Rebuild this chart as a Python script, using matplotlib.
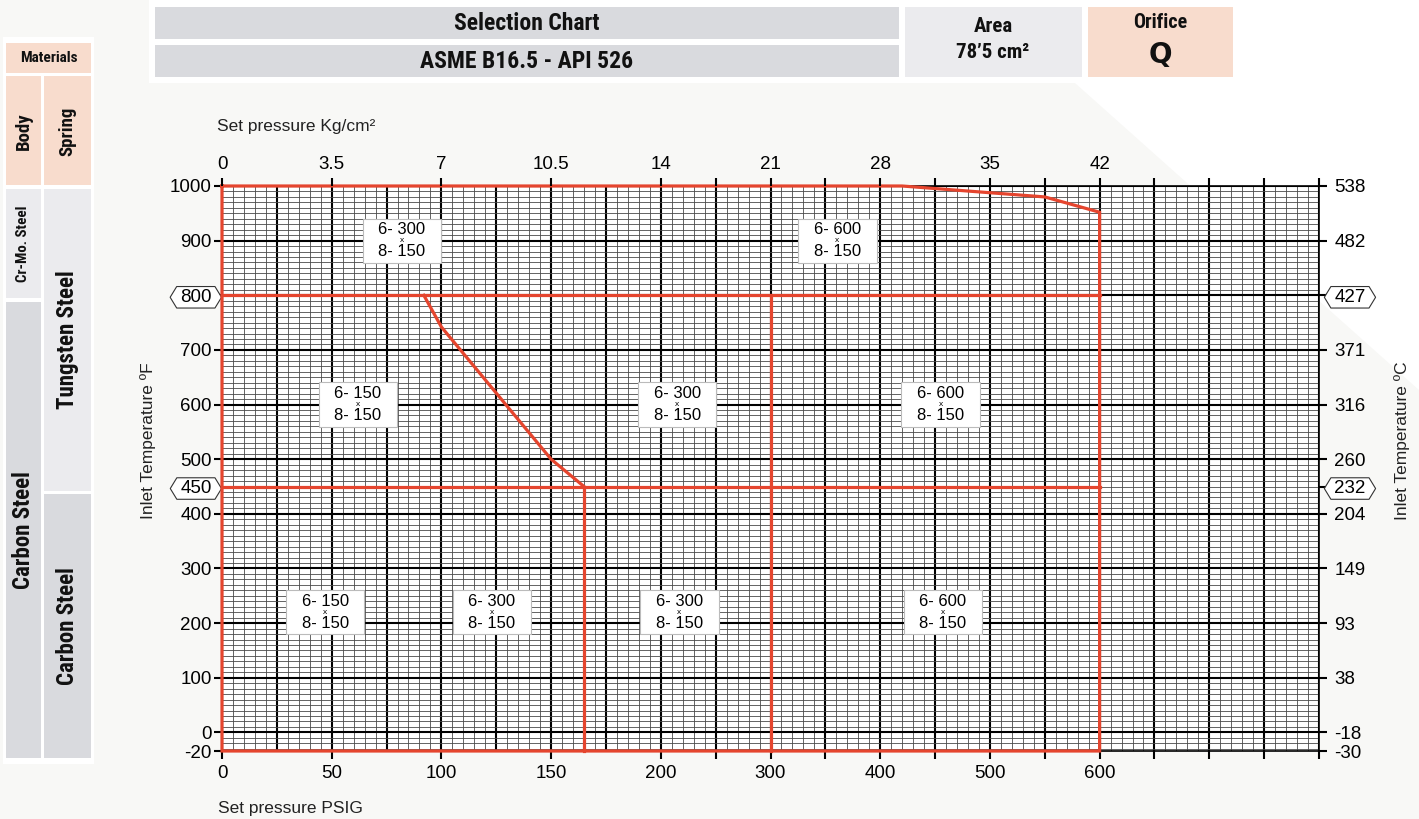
import numpy as np
import matplotlib
matplotlib.use("Agg")
import matplotlib.pyplot as plt
from matplotlib.patches import Rectangle, Polygon
from matplotlib.path import Path

plt.rcParams["font.family"] = ["Liberation Sans", "DejaVu Sans"]

W, H = 1419, 819
NARROW = ["Roboto Condensed", "Liberation Sans", "DejaVu Sans"]

# Axis ticks
psi_ticks = [0, 50, 100, 150, 200, 300, 400, 500, 600]
kg_labels = ["0", "3.5", "7", "10.5", "14", "21", "28", "35", "42"]
temp_f_ticks = [1000, 900, 800, 700, 600, 500, 450, 400, 300, 200, 100, 0, -20]
temp_c_labels = ["538", "482", "427", "371", "316", "260", "232", "204",
                 "149", "93", "38", "-18", "-30"]
marked_labels = ["800", "450", "427", "232"]

# Red limit lines (psi, degF)
outline_psi = [0, 420, 550, 600, 600, 0, 0]
outline_temp = [1000, 1000, 980, 952, -20, -20, 1000]
line800_psi = [0, 600]
line800_temp = [800, 800]
line450_psi = [0, 600]
line450_temp = [450, 450]
split300_psi = [300, 300]
split300_temp = [800, -20]
split165_psi = [165, 165]
split165_temp = [450, -20]
curve_psi = [92, 100, 150, 165]
curve_temp = [800, 742, 500, 450]

# Connection size boxes
box_psi = [82, 361, 62, 215, 455, 47, 123, 217, 457]
box_temp = [900, 900, 600, 600, 600, 220, 220, 220, 220]
box_inlet = ["6- 300", "6- 600", "6- 150", "6- 300", "6- 600",
             "6- 150", "6- 300", "6- 300", "6- 600"]
box_outlet = ["8- 150"] * 9

RED = "#E5452E"
PEACH = "#F8DCCD"
LIGHT = "#EBEBEE"
DARK = "#D9DADE"
BG = "#F8F8F6"


# psi axis: 0-200 spread twice as wide as 200-800
def psi_fwd(x):
    x = np.asarray(x, float)
    return np.where(x <= 200, x / 25.0, 8 + (x - 200) / 50.0)


def psi_inv(u):
    u = np.asarray(u, float)
    return np.where(u <= 8, u * 25.0, 200 + (u - 8) * 50.0)


# temperature axis: the strip below 0 is stretched
def temp_fwd(t):
    t = np.asarray(t, float)
    return np.where(t >= 0, t, t * 1.7)


def temp_inv(s):
    s = np.asarray(s, float)
    return np.where(s >= 0, s, s / 1.7)


def hex_box(x0, y0, width, height, mutation_size):
    px = 0.18 * mutation_size
    py = 0.12 * mutation_size
    d = 0.35 * mutation_size
    xa, xb = x0 - px, x0 + width + px
    ya, yb = y0 - py, y0 + height + py
    ym = (ya + yb) / 2
    verts = [(xa, ya), (xb, ya), (xb + d, ym), (xb, yb), (xa, yb), (xa - d, ym), (xa, ya)]
    return Path(verts, closed=True)


def label_box(x0, y0, width, height, mutation_size):
    cx, cy = x0 + width / 2, y0 + height / 2
    w, h = 4.7 * mutation_size, 2.65 * mutation_size
    verts = [(cx - w / 2, cy - h / 2), (cx + w / 2, cy - h / 2),
             (cx + w / 2, cy + h / 2), (cx - w / 2, cy + h / 2),
             (cx - w / 2, cy - h / 2)]
    return Path(verts, closed=True)


fig = plt.figure(figsize=(W / 100, H / 100), dpi=100, facecolor=BG)

# Background / header / materials panel in pixel coordinates
bg = fig.add_axes([0, 0, 1, 1], zorder=-1)
bg.set_xlim(0, W)
bg.set_ylim(H, 0)
bg.axis("off")
bg.add_patch(Polygon([(149, 0), (W, 0), (W, 390), (1075, 83), (149, 83)],
                     closed=True, fc="white", ec="none"))


def cell(x0, y0, x1, y1, color):
    bg.add_patch(Rectangle((x0, y0), x1 - x0, y1 - y0, fc=color, ec="none"))


cell(155, 7, 899, 39, DARK)
cell(155, 45, 899, 77, DARK)
cell(905, 7, 1082, 77, LIGHT)
cell(1088, 7, 1233, 77, PEACH)
hdr = dict(family=NARROW, weight="bold", ha="center", va="center", color="#111")
bg.text(527, 23, "Selection Chart", fontsize=17, **hdr)
bg.text(527, 61, "ASME B16.5 - API 526", fontsize=17, **hdr)
bg.text(993, 27, "Area", fontsize=15, **hdr)
bg.text(993, 53, "78’5 cm²", fontsize=15, **hdr)
bg.text(1160, 23, "Orifice", fontsize=14.5, **hdr)
bg.text(1160, 55, "Q", fontsize=20, family="DejaVu Sans", weight="bold",
        ha="center", va="center", color="#111")

cell(3, 37, 94, 764, "white")
cell(6, 43, 91, 73, PEACH)
cell(6, 76, 41, 185, PEACH)
cell(44, 76, 91, 185, PEACH)
cell(6, 189, 41, 298, LIGHT)
cell(6, 302, 41, 758, DARK)
cell(44, 189, 91, 491, LIGHT)
cell(44, 494, 91, 758, DARK)
bg.text(48.5, 58, "Materials", fontsize=11, **hdr)
bg.text(23.5, 131, "Body", fontsize=13.5, rotation=90, **hdr)
bg.text(67.5, 131, "Spring", fontsize=13.5, rotation=90, **hdr)
bg.text(23.5, 244, "Cr-Mo. Steel", fontsize=10.8, rotation=90, **hdr)
bg.text(23.5, 530, "Carbon Steel", fontsize=16.5, rotation=90, **hdr)
bg.text(67.5, 340, "Tungsten Steel", fontsize=16.5, rotation=90, **hdr)
bg.text(67.5, 626, "Carbon Steel", fontsize=16.5, rotation=90, **hdr)

# Main chart
ax = fig.add_axes([222 / W, (H - 751) / H, 1097 / W, 565 / H])
ax.set_facecolor("white")
ax.set_xscale("function", functions=(psi_fwd, psi_inv))
ax.set_yscale("function", functions=(temp_fwd, temp_inv))
ax.set_xlim(0, 800)
ax.set_ylim(-20, 1000)

for u in np.arange(0, 20.001, 0.2):
    heavy = round(u * 5) % 5 == 0
    ax.axvline(psi_inv(u), color="black" if heavy else "#4a4a4a",
               lw=1.5 if heavy else 0.6, zorder=1)
for s in np.arange(-30, 1000.1, 10):
    heavy = s >= 0 and round(s) % 100 == 0
    ax.axhline(temp_inv(s), color="black" if heavy else "#4a4a4a",
               lw=1.5 if heavy else 0.6, zorder=1)

red = dict(color=RED, lw=2.3, zorder=3, clip_on=False, solid_joinstyle="miter")
ax.plot(outline_psi, outline_temp, **red)
ax.plot(line800_psi, line800_temp, **red)
ax.plot(line450_psi, line450_temp, **red)
ax.plot(split300_psi, split300_temp, **red)
ax.plot(split165_psi, split165_temp, **red)
ax.plot(curve_psi, curve_temp, **red)

for p, t, a, b in zip(box_psi, box_temp, box_inlet, box_outlet):
    ax.text(p, t, f"{a}\n{b}", ha="center", va="center", fontsize=12,
            linespacing=1.55, zorder=5,
            bbox=dict(boxstyle=label_box, fc="white", ec="#bbbbbb", lw=0.8))
    ax.text(p, t, "x", ha="center", va="center", fontsize=6, zorder=6)

tick_pos = list(range(0, 801, 50))
psi_lab = [str(v) if v in psi_ticks else "" for v in tick_pos]
kg_lab = [kg_labels[psi_ticks.index(v)] if v in psi_ticks else "" for v in tick_pos]

ax_t = ax.twiny()
ax_r = ax.twinx()
ax_t.set_xscale("function", functions=(psi_fwd, psi_inv))
ax_t.set_xlim(0, 800)
ax_r.set_yscale("function", functions=(temp_fwd, temp_inv))
ax_r.set_ylim(-20, 1000)

ax.set_xticks(tick_pos, psi_lab)
ax.set_yticks(temp_f_ticks, [str(v) for v in temp_f_ticks])
ax_t.set_xticks(tick_pos, kg_lab)
ax_r.set_yticks(temp_f_ticks, temp_c_labels)
ax.minorticks_off()
ax_t.minorticks_off()
ax_r.minorticks_off()

tk = dict(length=6, width=1.5, color="black", labelsize=13.5, direction="out")
ax.tick_params(axis="x", pad=4, **tk)
ax.tick_params(axis="y", pad=1.5, **tk)
ax_t.tick_params(axis="x", pad=3.5, **tk)
ax_r.tick_params(axis="y", pad=5, **tk)

for a in (ax, ax_t, ax_r):
    for sp in a.spines.values():
        sp.set_visible(a is ax)
        sp.set_color("black")
        sp.set_linewidth(1.2)

for lab in ax.get_yticklabels() + ax_r.get_yticklabels():
    if lab.get_text() in marked_labels:
        lab.set_bbox(dict(boxstyle=hex_box, fc="white", ec="#333", lw=0.8))

txt = dict(fontsize=12.5, color="#222")
fig.text(217 / W, 1 - 127 / H, "Set pressure Kg/cm²", ha="left", va="center", **txt)
fig.text(218 / W, 1 - 809 / H, "Set pressure PSIG", ha="left", va="center", **txt)
fig.text(148 / W, 1 - 441 / H, "Inlet Temperature ºF", rotation=90,
         ha="center", va="center", **txt)
fig.text(1402 / W, 1 - 441 / H, "Inlet Temperature ºC", rotation=90,
         ha="center", va="center", **txt)

fig.savefig("out.png", dpi=100, facecolor=BG)
